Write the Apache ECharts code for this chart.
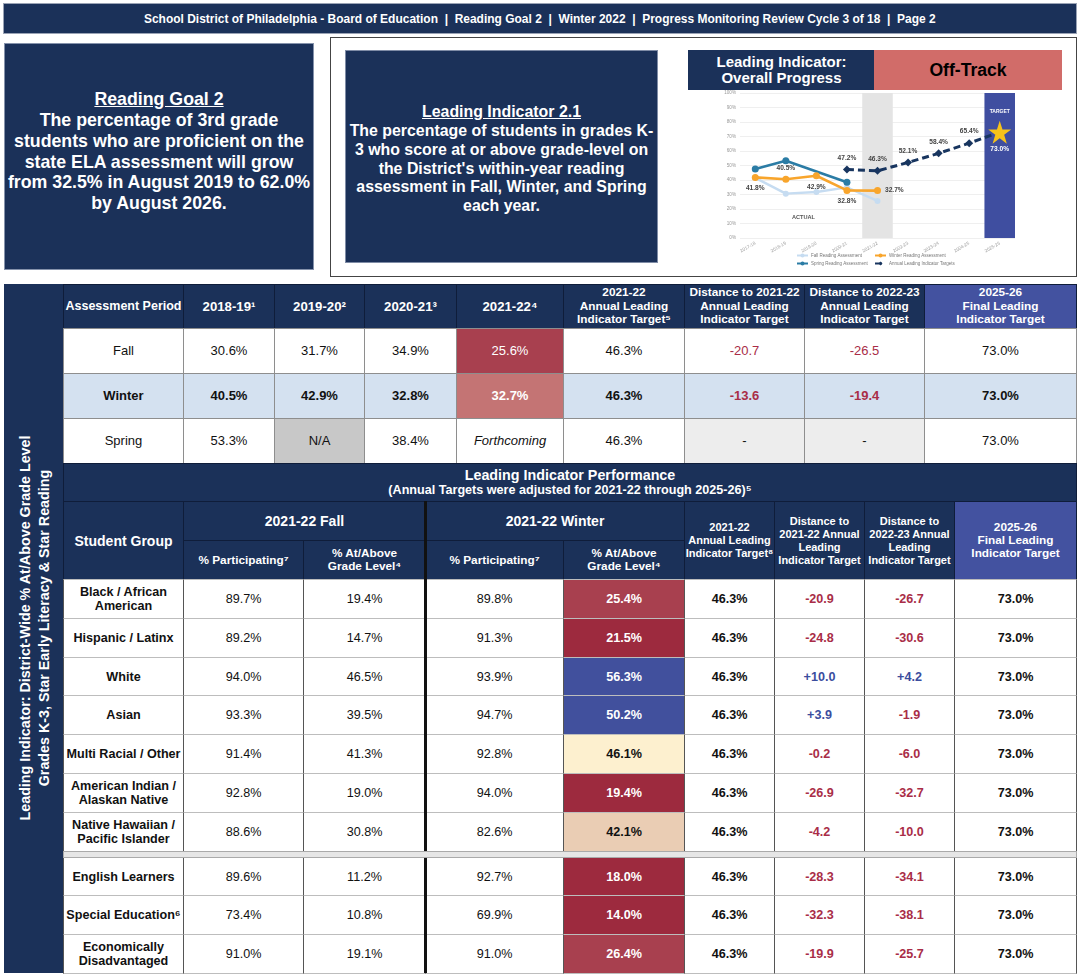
<!DOCTYPE html>
<html><head><meta charset="utf-8">
<script src="https://cdn.jsdelivr.net/npm/echarts@6/dist/echarts.min.js"></script>
<style>
body{margin:0;background:#fff;font-family:'Liberation Sans',Arial,sans-serif;}
#page{position:relative;width:1080px;height:976px;overflow:hidden;background:#fff;}
.cell{position:absolute;box-sizing:border-box;display:flex;align-items:center;justify-content:center;text-align:center;color:#111;font-size:12.6px;line-height:14px;}
#chart{position:absolute;left:688px;top:89px;width:388px;height:186px;z-index:10;}
</style></head><body><div id="page"><div id="chart"></div></div>
<script>
// ---------------- DATA ----------------
const headerText = 'School District of Philadelphia - Board of Education  |  Reading Goal 2  |  Winter 2022  |  Progress Monitoring Review Cycle 3 of 18  |  Page 2';
const goalTitle = 'Reading Goal 2';
const goalLines = ['The percentage of 3rd grade', 'students who are proficient on the', 'state ELA assessment will grow', 'from 32.5% in August 2019 to 62.0%', 'by August 2026.'];
const indicatorTitle = 'Leading Indicator 2.1';
const indicatorLines = ['The percentage of students in grades K-', '3 who score at or above grade-level on', "the District's within-year reading", 'assessment in Fall, Winter, and Spring', 'each year.'];
const statusLabel = ['Leading Indicator:', 'Overall Progress'];
const statusValue = 'Off-Track';

// chart
const chartYears = ['2017-18', '2018-19', '2019-20', '2020-21', '2021-22', '2022-23', '2023-24', '2024-25', '2025-26'];
const fallReading = [41.5, 30.6, 31.7, 34.9, 25.6, null, null, null, null];
const winterReading = [41.8, 40.5, 42.9, 32.8, 32.7, null, null, null, null];
const springReading = [47.6, 53.3, null, 38.4, null, null, null, null, null];
const annualTargets = [null, null, null, 47.2, 46.3, 52.1, 58.4, 65.4, 73.0];
const currentYear = '2021-22';
const targetYear = '2025-26';
const seriesNames = ['Fall Reading Assessment', 'Winter Reading Assessment', 'Spring Reading Assessment', 'Annual Leading Indicator Targets'];
const actualLabel = 'ACTUAL';
const targetLabel = 'TARGET';

// table 1
const t1Headers = ['Assessment Period', '2018-19¹', '2019-20²', '2020-21³', '2021-22⁴', '2021-22<br>Annual Leading<br>Indicator Target⁵', 'Distance to 2021-22<br>Annual Leading<br>Indicator Target', 'Distance to 2022-23<br>Annual Leading<br>Indicator Target', '2025-26<br>Final Leading<br>Indicator Target'];
const seasons = ['Fall', 'Winter', 'Spring'];
const fallByYear = [30.6, 31.7, 34.9, 25.6];
const winterByYear = [40.5, 42.9, 32.8, 32.7];
const springByYear = [53.3, null, 38.4, null];
const missingLabels = ['', 'N/A', '', 'Forthcoming'];
const seasonTarget2122 = [46.3, 46.3, 46.3];
const seasonDist2122 = [-20.7, -13.6, null];
const seasonDist2223 = [-26.5, -19.4, null];
const seasonFinal = [73.0, 73.0, 73.0];

// table 2
const perfTitle = 'Leading Indicator Performance';
const perfSubtitle = '(Annual Targets were adjusted for 2021-22 through 2025-26)⁵';
const groups = ['Black / African American', 'Hispanic / Latinx', 'White', 'Asian', 'Multi Racial / Other', 'American Indian / Alaskan Native', 'Native Hawaiian / Pacific Islander', 'English Learners', 'Special Education⁶', 'Economically Disadvantaged'];
const fallParticipating = [89.7, 89.2, 94.0, 93.3, 91.4, 92.8, 88.6, 89.6, 73.4, 91.0];
const fallAtAbove = [19.4, 14.7, 46.5, 39.5, 41.3, 19.0, 30.8, 11.2, 10.8, 19.1];
const winterParticipating = [89.8, 91.3, 93.9, 94.7, 92.8, 94.0, 82.6, 92.7, 69.9, 91.0];
const winterAtAbove = [25.4, 21.5, 56.3, 50.2, 46.1, 19.4, 42.1, 18.0, 14.0, 26.4];
const groupTarget2122 = [46.3, 46.3, 46.3, 46.3, 46.3, 46.3, 46.3, 46.3, 46.3, 46.3];
const groupDist2122 = [-20.9, -24.8, 10.0, 3.9, -0.2, -26.9, -4.2, -28.3, -32.3, -19.9];
const groupDist2223 = [-26.7, -30.6, 4.2, -1.9, -6.0, -32.7, -10.0, -34.1, -38.1, -25.7];
const groupFinal = [73.0, 73.0, 73.0, 73.0, 73.0, 73.0, 73.0, 73.0, 73.0, 73.0];
const sideTitle = ['Leading Indicator: District-Wide % At/Above Grade Level', 'Grades K-3, Star Early Literacy & Star Reading'];

// ---------------- LAYOUT / STYLE ----------------
const NAVY = '#1b3159', PURPLE = '#4352a0', RED_TXT = '#a92d47', BLUE_TXT = '#3b4d9e';
const page = document.getElementById('page');
const mctx = document.createElement('canvas').getContext('2d');
function fit(text, weight, family, target) { mctx.font = weight + ' 100px ' + family; return 100 * target / mctx.measureText(text).width; }
function box(x0, y0, x1, y1, css, html) {
  const d = document.createElement('div'); d.className = 'cell';
  d.style.left = x0 + 'px'; d.style.top = y0 + 'px';
  d.style.width = (x1 - x0 + 1) + 'px'; d.style.height = (y1 - y0 + 1) + 'px';
  Object.assign(d.style, css || {}); if (html != null) d.innerHTML = '<div>' + html + '</div>'; page.appendChild(d); return d;
}
const pct = v => v.toFixed(1) + '%';
const dist = v => (v > 0 ? '+' : '') + v.toFixed(1);
function heat(v) {
  if (v >= 50) return ['#41509d', '#fff'];
  if (v >= 46) return ['#fdf0cf', '#111'];
  if (v >= 40) return ['#eacdb4', '#111'];
  if (v >= 30) return ['#c47474', '#fff'];
  if (v >= 24) return ['#a8404f', '#fff'];
  return ['#9d2a3e', '#fff'];
}

// header bar (condensed bold)
const hsz = 13;
const hw = (function () { mctx.font = 'bold ' + hsz + "px 'Liberation Sans'"; return mctx.measureText(headerText).width; })();
const hscale = 792 / hw;
box(3, 3, 1076, 33, {background: NAVY, border: '1px solid #9aa3b5'},
  '<span style="display:inline-block;white-space:pre;color:#fff;font-weight:bold;font-size:' + hsz + 'px;transform:scaleX(' + hscale.toFixed(3) + ')">' + headerText + '</span>');

// goal box
const gs = fit(goalLines[3], 'bold', "'Liberation Sans'", 303);
box(4, 43, 313, 269, {background: NAVY, color: '#fff', fontWeight: 'bold', fontSize: gs + 'px', lineHeight: '20.8px', whiteSpace: 'nowrap', border: '1px solid #8592ab', paddingBottom: '10px'},
  '<u>' + goalTitle + '</u><br>' + goalLines.join('<br>'));

// indicator outer box
box(330, 37, 1076, 276, {background: '#fff', border: '1px solid #444'});
const is = fit(indicatorLines[0], 'bold', "'Liberation Sans'", 304);
box(345, 50, 657, 262, {background: NAVY, color: '#fff', fontWeight: 'bold', fontSize: is + 'px', lineHeight: '18.8px', whiteSpace: 'nowrap', paddingTop: '6px', border: '1px solid #7f8ca6'},
  '<u>' + indicatorTitle + '</u><br>' + indicatorLines.join('<br>'));

// status boxes
box(688, 50, 874, 89, {background: NAVY, color: '#fff', fontWeight: 'bold', fontSize: '15px', lineHeight: '16px'}, statusLabel.join('<br>'));
box(874, 50, 1061, 89, {background: '#d16c69', color: '#000', fontWeight: 'bold', fontSize: '17.6px'}, statusValue);

// side band
box(4, 284, 63, 972, {background: NAVY});
const ss = fit(sideTitle[0], 'bold', "'Liberation Sans'", 386);
box(34 - 210, 628 - 20, 34 + 210, 628 + 19, {color: '#fff', fontWeight: 'bold', fontSize: ss + 'px', lineHeight: '19px', transform: 'rotate(-90deg)', whiteSpace: 'nowrap'}, sideTitle.join('<br>'));

// ---------- table 1 ----------
const T1X = [63, 183, 274, 364, 456, 563, 684, 804, 924, 1076];
const T1Y = [284, 328, 373, 418, 463];
t1Headers.forEach((h, i) => {
  const multi = h.indexOf('<br>') >= 0;
  box(T1X[i], T1Y[0], T1X[i + 1], T1Y[1], {background: i === 8 ? PURPLE : NAVY, color: '#fff', fontWeight: 'bold',
    fontSize: multi ? '11.8px' : (i === 0 ? '12.5px' : '13.2px'), lineHeight: '13.7px', border: '1px solid #0f1d3a'}, h);
});
const byYear = [fallByYear, winterByYear, springByYear];
seasons.forEach((s, r) => {
  const y0 = T1Y[r + 1], y1 = T1Y[r + 2];
  const bold = r === 1;
  const bg = r === 1 ? '#d4e1f0' : '#fff';
  const base = {background: bg, fontWeight: bold ? 'bold' : 'normal', border: '1px solid #8e8e8e', fontSize: '13px'};
  box(T1X[0], y0, T1X[1], y1, base, s);
  for (let c = 0; c < 4; c++) {
    const v = byYear[r][c];
    const css = Object.assign({}, base);
    let txt;
    if (v == null) {
      txt = missingLabels[c];
      if (txt === 'N/A') css.background = '#c8c8c8';
      else { css.fontStyle = 'italic'; }
    } else {
      txt = pct(v);
      if (c === 3) { const h = heat(v); css.background = h[0]; css.color = h[1]; }
    }
    box(T1X[c + 1], y0, T1X[c + 2], y1, css, txt);
  }
  box(T1X[5], y0, T1X[6], y1, base, pct(seasonTarget2122[r]));
  [seasonDist2122[r], seasonDist2223[r]].forEach((v, k) => {
    const css = Object.assign({}, base);
    if (v == null) { css.background = '#ededed'; box(T1X[6 + k], y0, T1X[7 + k], y1, css, '-'); }
    else { css.color = v > 0 ? BLUE_TXT : RED_TXT; box(T1X[6 + k], y0, T1X[7 + k], y1, css, dist(v)); }
  });
  box(T1X[8], y0, T1X[9], y1, base, pct(seasonFinal[r]));
});

// ---------- table 2 ----------
box(63, 463, 1076, 501, {background: NAVY, color: '#fff', fontWeight: 'bold', border: '1px solid #0f1d3a'},
  '<div style="font-size:14.3px;line-height:16px">' + perfTitle + '</div><div style="font-size:12.6px;line-height:15px">' + perfSubtitle + '</div>');
const T2X = [63, 183, 303, 425, 563, 684, 774, 864, 954, 1076];
const hdr = {background: NAVY, color: '#fff', fontWeight: 'bold', border: '1px solid #0f1d3a'};
box(63, 501, 183, 579, Object.assign({}, hdr, {fontSize: '14px'}), 'Student Group');
box(183, 501, 425, 540, Object.assign({}, hdr, {fontSize: '14px'}), '2021-22 Fall');
box(425, 501, 684, 540, Object.assign({}, hdr, {fontSize: '14px'}), '2021-22 Winter');
box(183, 540, 303, 579, Object.assign({}, hdr, {fontSize: '11.8px'}), '% Participating⁷');
box(303, 540, 425, 579, Object.assign({}, hdr, {fontSize: '11.8px', lineHeight: '13px'}), '% At/Above<br>Grade Level⁴');
box(425, 540, 563, 579, Object.assign({}, hdr, {fontSize: '11.8px'}), '% Participating⁷');
box(563, 540, 684, 579, Object.assign({}, hdr, {fontSize: '11.8px', lineHeight: '13px'}), '% At/Above<br>Grade Level⁴');
box(684, 501, 774, 579, Object.assign({}, hdr, {fontSize: '11px', lineHeight: '13px'}), '2021-22<br>Annual Leading<br>Indicator Target⁸');
box(774, 501, 864, 579, Object.assign({}, hdr, {fontSize: '11px', lineHeight: '13px'}), 'Distance to<br>2021-22 Annual<br>Leading<br>Indicator Target');
box(864, 501, 954, 579, Object.assign({}, hdr, {fontSize: '11px', lineHeight: '13px'}), 'Distance to<br>2022-23 Annual<br>Leading<br>Indicator Target');
box(954, 501, 1076, 579, Object.assign({}, hdr, {background: PURPLE, fontSize: '11.8px', lineHeight: '13px'}), '2025-26<br>Final Leading<br>Indicator Target');

// rows
const rowH = 38.8, gapH = 6;
const rowTop = [];
let yy = 579;
groups.forEach((g, i) => { if (i === 7) { yy += gapH; } rowTop.push(yy); yy += rowH; });
groups.forEach((g, i) => {
  const y0 = Math.round(rowTop[i]), y1 = Math.round(rowTop[i] + rowH);
  const base = {background: '#fff', borderLeft: '1px solid #555', borderRight: '1px solid #555', borderTop: '1px solid #bdbdbd', borderBottom: '1px solid #bdbdbd'};
  const b = Object.assign({}, base, {fontWeight: 'bold'});
  box(T2X[0], y0, T2X[1], y1, Object.assign({}, b, {lineHeight: '14px'}), g);
  box(T2X[1], y0, T2X[2], y1, base, pct(fallParticipating[i]));
  box(T2X[2], y0, T2X[3], y1, base, pct(fallAtAbove[i]));
  box(T2X[3], y0, T2X[4], y1, base, pct(winterParticipating[i]));
  const h = heat(winterAtAbove[i]);
  box(T2X[4], y0, T2X[5], y1, Object.assign({}, b, {background: h[0], color: h[1]}), pct(winterAtAbove[i]));
  box(T2X[5], y0, T2X[6], y1, b, pct(groupTarget2122[i]));
  box(T2X[6], y0, T2X[7], y1, Object.assign({}, b, {color: groupDist2122[i] > 0 ? BLUE_TXT : RED_TXT}), dist(groupDist2122[i]));
  box(T2X[7], y0, T2X[8], y1, Object.assign({}, b, {color: groupDist2223[i] > 0 ? BLUE_TXT : RED_TXT}), dist(groupDist2223[i]));
  box(T2X[8], y0, T2X[9], y1, b, pct(groupFinal[i]));
});
// thick divider between Fall and Winter
box(424, 501, 426, 972, {background: '#111'});
// gap row
const gy = Math.round(rowTop[6] + rowH);
box(63, gy, 1076, gy + gapH, {background: '#e6e6e6', border: '1px solid #aaa'});

// ---------------- CHART ----------------
const starPath = 'path://M50,0L61.8,35.1L98.9,35.1L68.9,56.9L80.3,92.1L50,70.4L19.7,92.1L31.1,56.9L1.1,35.1L38.2,35.1Z';
const lblFmt = p => (p.value == null ? '' : Number(p.value).toFixed(1) + '%');
const winterLabelPos = ['bottom', 'top', 'bottom', 'bottom', 'right'];
const labelBase = {show: true, fontSize: 6.6, fontWeight: 'bold', color: '#444', formatter: lblFmt, distance: 4};
const legendSlots = [[108, 164], [186, 164], [108, 172], [186, 172]];

const chart = echarts.init(document.getElementById('chart'));
chart.setOption({
  animation: false,
  textStyle: {fontFamily: 'Liberation Sans'},
  grid: {left: 52, top: 4, width: 275, height: 145},
  xAxis: {type: 'category', data: chartYears, boundaryGap: true, axisLine: {show: false}, axisTick: {show: false},
    axisLabel: {rotate: 30, fontSize: 4.6, color: '#999', margin: 5, interval: 0}},
  yAxis: {type: 'value', min: 0, max: 100, interval: 10,
    axisLabel: {formatter: '{value}%', fontSize: 4.6, color: '#999', margin: 4},
    splitLine: {lineStyle: {color: '#ebebeb', width: 0.8}}},
  legend: seriesNames.map((n, i) => ({left: legendSlots[i][0], top: legendSlots[i][1], itemWidth: 11, itemHeight: 5, padding: 0,
    textStyle: {fontSize: 4.5, color: '#777', padding: [0, 0, 0, -2]}, data: [n]})),
  graphic: [{type: 'text', left: 104, top: 125, style: {text: actualLabel, fontSize: 5.6, fontWeight: 'bold', fill: '#555', fontFamily: 'Liberation Sans'}}],
  series: [
    {type: 'bar', name: 'band', silent: true, barWidth: '100%', z: 1,
      data: chartYears.map(y => y === currentYear ? {value: 100, itemStyle: {color: '#e4e4e4'}}
        : y === targetYear ? {value: 100, itemStyle: {color: '#3f4ea0'},
          label: {show: true, position: 'insideTop', distance: 16, formatter: targetLabel, color: '#fff', fontSize: 5, fontWeight: 'bold'}} : null)},
    {type: 'line', name: seriesNames[0], data: fallReading, color: '#c6dcf1', z: 3,
      lineStyle: {width: 2.4}, symbol: 'circle', symbolSize: 6},
    {type: 'line', name: seriesNames[1], data: winterReading.map((v, i) => v == null ? null : {value: v, label: Object.assign({}, labelBase, {position: winterLabelPos[i]})}),
      color: '#f8a52c', z: 5, lineStyle: {width: 2.6}, symbol: 'circle', symbolSize: 7},
    {type: 'line', name: seriesNames[2], data: springReading, connectNulls: true, color: '#2b7ca5', z: 4,
      lineStyle: {width: 2.6}, symbol: 'circle', symbolSize: 7},
    {type: 'line', name: seriesNames[3], color: '#18355f', z: 6, lineStyle: {width: 3, type: [7, 4]}, symbol: 'diamond', symbolSize: 8,
      data: annualTargets.map((v, i) => v == null ? null : (chartYears[i] === targetYear
        ? {value: v, symbol: starPath, symbolSize: 23, itemStyle: {color: '#f6c21a'},
           label: Object.assign({}, labelBase, {position: 'bottom', color: '#fff', distance: 2})}
        : {value: v, label: Object.assign({}, labelBase, {position: 'top'})}))}
  ]
});
</script></body></html>
